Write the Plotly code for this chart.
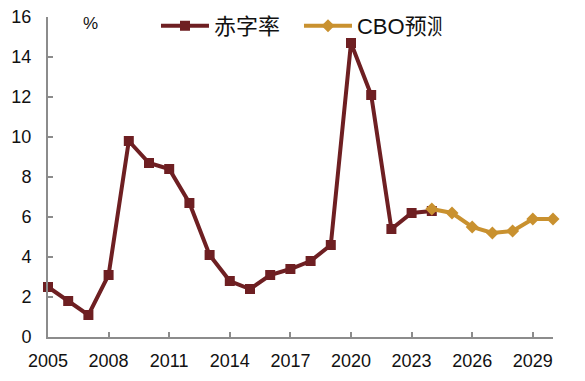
import plotly.graph_objects as go

years_hist = list(range(2005, 2025))
deficit = [2.5, 1.8, 1.1, 3.1, 9.8, 8.7, 8.4, 6.7, 4.1, 2.8, 2.4, 3.1, 3.4, 3.8, 4.6, 14.7, 12.1, 5.4, 6.2, 6.3]
years_cbo = list(range(2024, 2031))
cbo = [6.4, 6.2, 5.5, 5.2, 5.3, 5.9, 5.9]
tick_years = [2005, 2008, 2011, 2014, 2017, 2020, 2023, 2026, 2029]

RED = "#6E1F22"
GOLD = "#C9912F"

fig = go.Figure()
fig.add_trace(go.Scatter(x=years_hist, y=deficit, name="赤字率", mode="lines+markers",
                         line=dict(color=RED, width=4),
                         marker=dict(symbol="square", size=10, color=RED),
                         cliponaxis=False))
fig.add_trace(go.Scatter(x=years_cbo, y=cbo, name="CBO预测", mode="lines+markers",
                         line=dict(color=GOLD, width=4),
                         marker=dict(symbol="diamond", size=10, color=GOLD),
                         cliponaxis=False))

# page body has an 8px default margin, so the figure is 8px smaller than the window
fig.update_layout(
    width=577, height=373,
    margin=dict(l=40, r=32, t=9, b=44, autoexpand=False),
    plot_bgcolor="white", paper_bgcolor="white",
    font=dict(family="Liberation Sans, Arial, Noto Sans CJK SC", size=18, color="#111"),
    showlegend=True,
    legend=dict(orientation="h", x=0.497, xanchor="center", y=0.972, yanchor="middle",
                font=dict(size=22, family="Liberation Sans, Noto Sans CJK SC"),
                bgcolor="rgba(255,255,255,0)", itemwidth=48, entrywidth=80),
    xaxis=dict(range=[2005, 2030], tickmode="array", tickvals=tick_years, automargin=False,
               showgrid=False, zeroline=False, showline=True, linecolor="#8c8c8c", linewidth=2,
               ticks="inside", ticklen=5, tickcolor="#8c8c8c", tickwidth=1.5,
               ticklabelstandoff=6, ticklabeloverflow="allow"),
    yaxis=dict(range=[0, 16], dtick=2, showgrid=False, zeroline=False, automargin=False,
               showline=True, linecolor="#8c8c8c", linewidth=2,
               ticks="inside", ticklen=5, tickcolor="#8c8c8c", tickwidth=1.5,
               ticklabelstandoff=11, ticklabeloverflow="allow"),
    annotations=[dict(text="%", x=2007.1, y=15.7, xref="x", yref="y", showarrow=False,
                      xanchor="center", yanchor="middle", font=dict(size=17))],
)

fig.write_html("out.html")
